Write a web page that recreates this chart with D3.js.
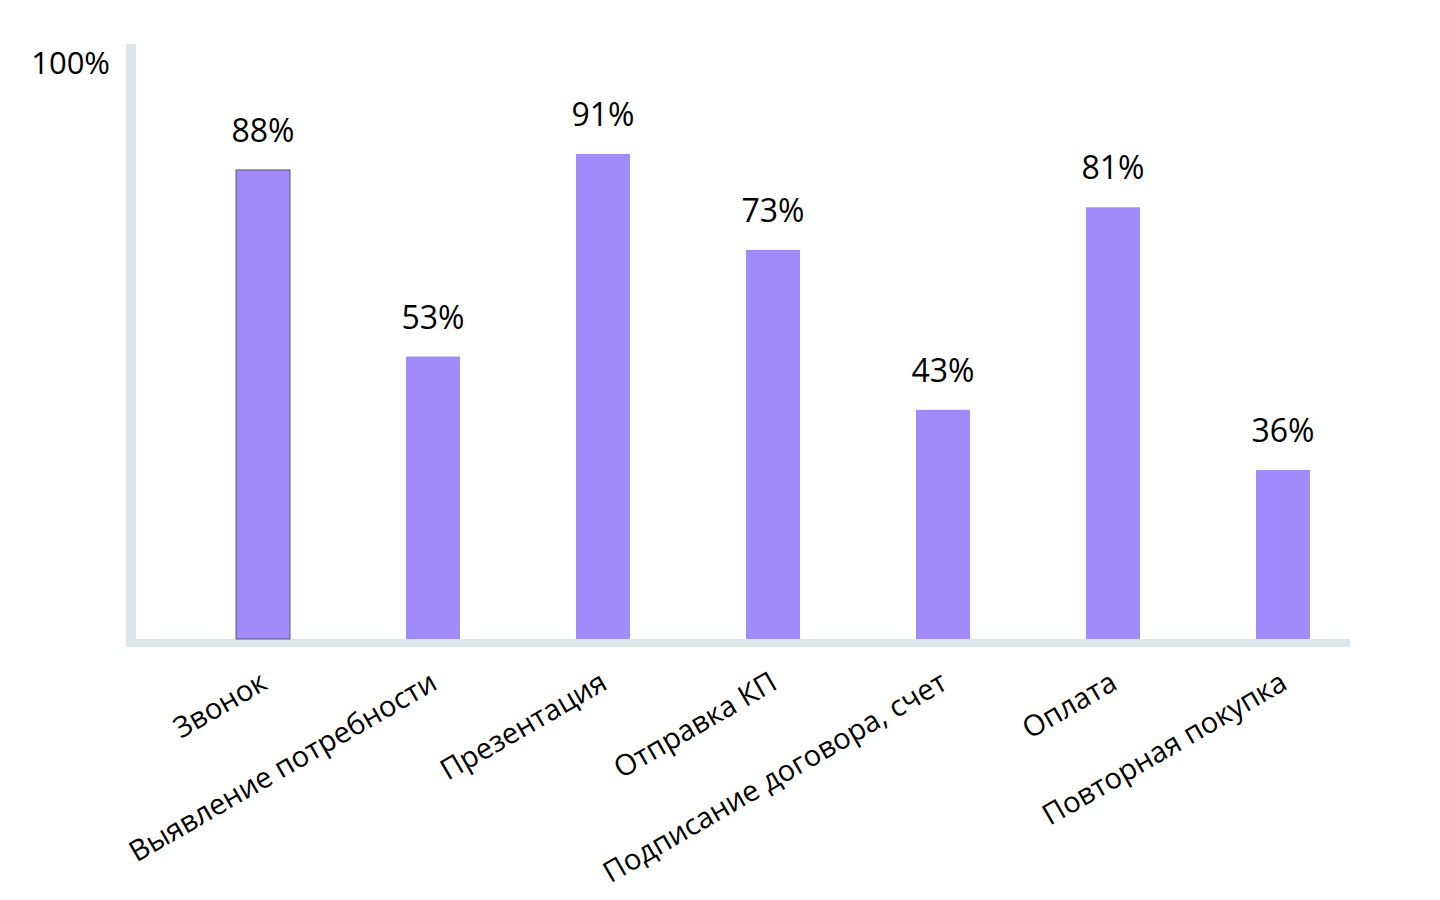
<!DOCTYPE html>
<html>
<head>
<meta charset="utf-8">
<script src="https://cdn.jsdelivr.net/npm/d3@7"></script>
<style>
  html, body { margin: 0; padding: 0; background: #ffffff; }
  svg { display: block; }
  text { font-family: "Open Sans", "Noto Sans", sans-serif; fill: #000; }
</style>
</head>
<body>
<svg id="chart" width="1440" height="900"></svg>
<script>
// Data
const categories = ["Звонок", "Выявление потребности", "Презентация", "Отправка КП", "Подписание договора, счет", "Оплата", "Повторная покупка"];
const barValues = [88, 53, 91, 73, 43, 81, 31.7];   // bar heights as drawn
const valueLabels = ["88%", "53%", "91%", "73%", "43%", "81%", "36%"];
const topTickLabel = "100%";

const svg = d3.select("#chart");
const baseY = 639;

const x = d3.scaleBand()
  .domain(categories)
  .range([178, 1368])
  .paddingInner(116 / 170)
  .paddingOuter(58 / 170);

const y = d3.scaleLinear().domain([0, 100]).range([baseY, 106]);

const axisColor = "#dfe6e9";

// y axis line
svg.append("rect")
  .attr("x", 126).attr("y", 44)
  .attr("width", 10).attr("height", 647 - 44)
  .attr("fill", axisColor);

// x axis line
svg.append("rect")
  .attr("x", 126).attr("y", baseY)
  .attr("width", 1350 - 126).attr("height", 8)
  .attr("fill", axisColor);

// top label
svg.append("text")
  .attr("x", 110).attr("y", 74)
  .attr("text-anchor", "end")
  .style("font-size", "31px")
  .text(topTickLabel);

// bars
svg.selectAll("rect.bar")
  .data(categories)
  .enter().append("rect")
  .attr("class", "bar")
  .attr("x", d => x(d))
  .attr("y", (d, i) => y(barValues[i]))
  .attr("width", x.bandwidth())
  .attr("height", (d, i) => baseY - y(barValues[i]))
  .attr("fill", "#a18bfa")
  .attr("stroke", (d, i) => i === 0 ? "#5a5a6a" : "none")
  .attr("stroke-width", 1);

// value labels
svg.selectAll("text.val")
  .data(categories)
  .enter().append("text")
  .attr("class", "val")
  .attr("x", d => x(d) + x.bandwidth() / 2)
  .attr("y", (d, i) => y(barValues[i]) - 28)
  .attr("text-anchor", "middle")
  .style("font-size", "32px")
  .text((d, i) => valueLabels[i]);

// x axis labels
const xAxis = d3.axisBottom(x).tickSize(0).tickSizeOuter(0);
const gx = svg.append("g").attr("transform", `translate(0,${baseY})`).call(xAxis);
gx.select(".domain").remove();
gx.selectAll(".tick text")
  .attr("x", 0).attr("y", 0).attr("dy", null)
  .attr("text-anchor", "end")
  .attr("transform", "translate(6,49) rotate(-30)")
  .style("font-size", "29px")
  .style("font-family", "\"Open Sans\", \"Noto Sans\", sans-serif")
  .attr("fill", "#000");
</script>
</body>
</html>
